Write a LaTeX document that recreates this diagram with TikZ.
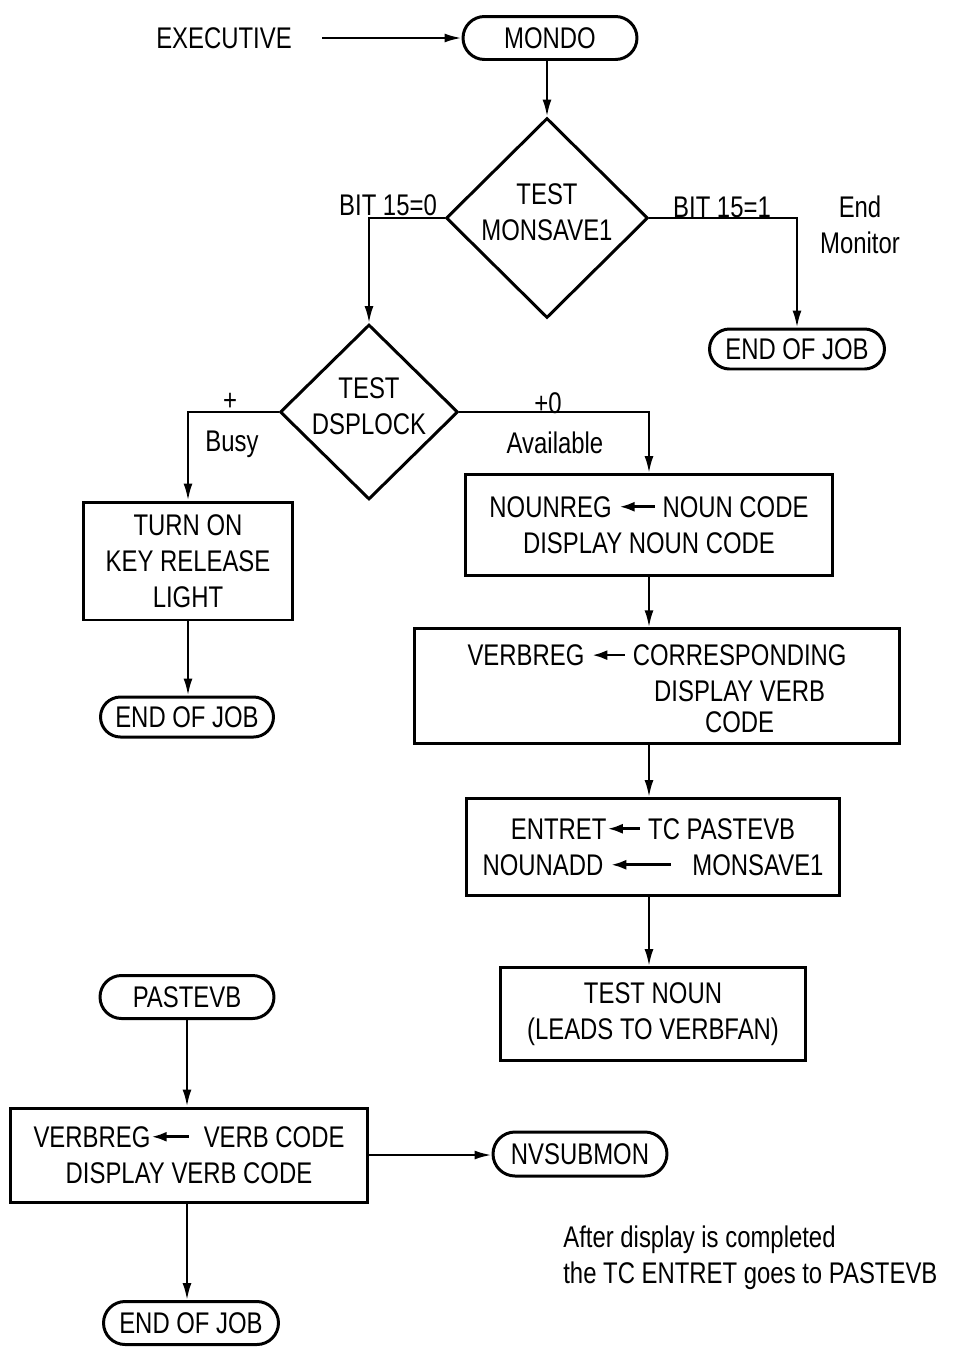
\documentclass[tikz,border=0pt]{standalone}
\usepackage{fontspec}
\setmainfont{Liberation Sans}[FakeStretch=0.8]
\usetikzlibrary{arrows.meta,shapes.geometric,shapes.misc}
\newcommand{\figfont}{\fontsize{17}{20.5}\selectfont}
\newcommand{\inarr}[1]{\tikz[baseline=-6pt]\draw[line width=1.5pt,{Latex[length=0.3cm,width=0.2cm]}-] (0,0) -- (#1,0);}
\tikzset{
  lbl/.style={font=\figfont, inner sep=0pt},
  term/.style={rounded rectangle, draw, line width=1.7pt, minimum width=3.48cm, minimum height=0.86cm, inner sep=0pt, font=\figfont},
  proc/.style={rectangle, draw, line width=1.7pt, inner sep=0pt, align=center, font=\figfont},
  dec/.style={diamond, draw, line width=1.7pt, inner sep=0pt},
  dectext/.style={font=\figfont, align=center, yshift=0.11cm},
  arr/.style={line width=1.3pt, -{Latex[length=0.34cm,width=0.18cm]}},
}
\begin{document}
\begin{tikzpicture}[x=0.02cm,y=-0.02cm]
\useasboundingbox (0,0) rectangle (964,1353);
% terminals
\node[term] (mondo) at (550,38) {MONDO};
\node[term, minimum width=3.5cm, minimum height=0.8cm] (eoj1) at (797,349) {END OF JOB};
\node[term, minimum width=3.46cm, minimum height=0.8cm] (eoj2) at (187,717) {END OF JOB};
\node[term] (past) at (187,997) {PASTEVB};
\node[term, minimum height=0.88cm] (nvsub) at (580,1154) {NVSUBMON};
\node[term, minimum width=3.5cm] (eoj3) at (191,1323) {END OF JOB};
% decisions
\node[dec, minimum width=4.04cm, minimum height=4cm, label={[dectext]center:TEST\\MONSAVE1}] (d1) at (547,218) {};
\node[dec, minimum width=3.56cm, minimum height=3.5cm, label={[dectext]center:TEST\\DSPLOCK}] (d2) at (369,412) {};
% processes
\node[proc, minimum width=4.18cm, minimum height=2.36cm] (turn) at (188,561) {TURN ON\\KEY RELEASE\\LIGHT};
\node[proc, minimum width=7.36cm, minimum height=2.02cm] (noun) at (649,525) {NOUNREG \inarr{0.7cm} NOUN CODE\\DISPLAY NOUN CODE};
\node[proc, minimum width=9.7cm, minimum height=2.24cm] (verb) at (657,686) {\begin{tabular}{@{}r@{}c@{}}\rule{0pt}{21pt}VERBREG \inarr{0.65cm}\ \ & CORRESPONDING\\ & DISPLAY VERB\\[-3pt] & CODE\end{tabular}};
\node[proc, minimum width=7.46cm, minimum height=1.94cm] (entret) at (653,847) {ENTRET\inarr{0.65cm}\ TC PASTEVB\\NOUNADD \inarr{1.2cm}\ \ \ MONSAVE1};
\node[proc, minimum width=6.12cm, minimum height=1.86cm] (testnoun) at (653,1014) {TEST NOUN\\(LEADS TO VERBFAN)};
\node[proc, minimum width=7.16cm, minimum height=1.88cm] (verb2) at (189,1155) {VERBREG\inarr{0.75cm}\ \ VERB CODE\\DISPLAY VERB CODE};
% labels
\node[lbl] (exec) at (224,38) {EXECUTIVE};
\node[lbl] (b0) at (388,205) {BIT 15=0};
\node[lbl] (b1) at (722,207) {BIT 15=1};
\node[lbl, align=center] (endmon) at (860,225) {End\\Monitor};
\node[lbl] (plus) at (230,402) {+};
\node[lbl, anchor=base] (busy) at (232,451) {Busy};
\node[lbl] (plus0) at (548,403) {+0};
\node[lbl, anchor=base] (avail) at (555,453) {Available};
\node[lbl, align=left, anchor=west] (note) at (563,1258) {After display is completed\\the TC ENTRET goes to PASTEVB};
% connectors
\draw[arr, shorten <=0.6cm] (exec.east) -- (mondo.west);
\draw[arr] (d1.north |- mondo.south) -- (d1.north);
\draw[arr] (d1.west) -| (d2.north);
\draw[arr] (d1.east) -| (eoj1.north);
\draw[arr] (d2.west) -| (turn.north);
\draw[arr] (d2.east) -| (noun.north);
\draw[arr] (turn.south) -- (turn.south |- eoj2.north);
\draw[arr] (noun.south) -- (noun.south |- verb.north);
\draw[arr] (verb.south -| noun.south) -- (entret.north -| noun.south);
\draw[arr] (entret.south -| noun.south) -- (testnoun.north -| noun.south);
\draw[arr] (past.south) -- (past.south |- verb2.north);
\draw[arr] (verb2.east) -- (verb2.east -| nvsub.west);
\draw[arr] (verb2.south -| past.south) -- (eoj3.north -| past.south);
\end{tikzpicture}
\end{document}
